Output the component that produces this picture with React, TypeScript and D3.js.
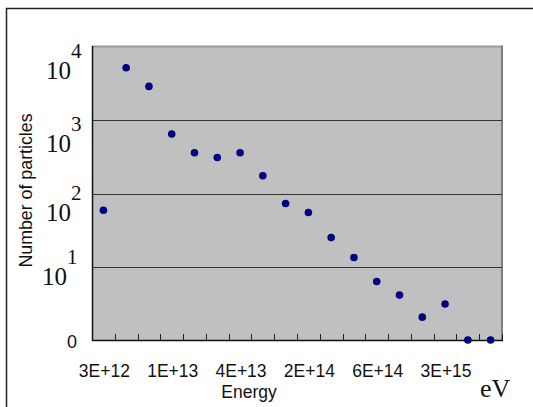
import React from "react";
import * as d3 from "d3";

// ---- data ----
const categories: number[] = d3.range(18);
const tickLabels: string[] = ["3E+12", "", "", "1E+13", "", "", "4E+13", "", "", "2E+14", "", "", "6E+14", "", "", "3E+15", "", ""];
const counts: number[] = [59, 5200, 2900, 650, 360, 310, 360, 175, 73, 55, 25, 13.4, 6.3, 4.1, 2.05, 3.1, 1, 1];
const yTickValues: number[] = [1, 10, 100, 1000, 10000];
const yTickExponents: string[] = ["", "1", "2", "3", "4"];

// ---- layout ----
const W = 533, H = 407;
const plot = { left: 92, right: 502, top: 47, bottom: 340 };
// manual nudges of the y labels (baseline offset of "10" below the gridline)
const yLabelNudge = [8, 18, 27, 32, 32];

export default function App() {
  const x = d3.scaleBand<number>().domain(categories).range([plot.left, plot.right]);
  const y = d3.scaleLog().domain([1, 10000]).range([plot.bottom, plot.top]);
  const serif = "'Liberation Serif', 'Times New Roman', serif";
  const sans = "'Liberation Sans', Arial, sans-serif";

  return (
    <svg width={W} height={H} style={{ position: "absolute", left: 0, top: 0, background: "#fff" }}>
      {/* outer chart border */}
      <rect x={6.5} y={8.5} width={W + 20} height={H + 20} fill="#fff" stroke="#222" strokeWidth={1.5} />
      {/* plot area */}
      <rect x={plot.left} y={plot.top} width={plot.right - plot.left} height={plot.bottom - plot.top} fill="#c0c0c0" />
      {/* top & right borders */}
      <line x1={plot.left} x2={plot.right} y1={plot.top - 0.5} y2={plot.top - 0.5} stroke="#999" strokeWidth={2} />
      <line x1={plot.right} x2={plot.right} y1={plot.top - 1.5} y2={plot.bottom} stroke="#808080" strokeWidth={2} />
      {/* gridlines */}
      {yTickValues.slice(1, 4).map((v) => (
        <line key={v} x1={plot.left} x2={plot.right} y1={Math.round(y(v)) + 0.5} y2={Math.round(y(v)) + 0.5} stroke="#333" strokeWidth={1} />
      ))}
      {/* x ticks */}
      {categories.map((c) => {
        const xx = Math.round((x(c) as number) + x.bandwidth()) + 0.5;
        return <line key={c} x1={xx} x2={xx} y1={plot.bottom} y2={plot.bottom - 6} stroke="#222" strokeWidth={1} />;
      })}
      {/* axes */}
      <line x1={plot.left + 0.5} x2={plot.left + 0.5} y1={plot.top - 1} y2={plot.bottom + 1} stroke="#111" strokeWidth={1.5} />
      <line x1={plot.left} x2={plot.right + 1} y1={plot.bottom + 0.5} y2={plot.bottom + 0.5} stroke="#111" strokeWidth={1.5} />
      {/* points */}
      {counts.map((v, i) => (
        <circle key={i} cx={(x(categories[i]) as number) + x.bandwidth() / 2} cy={y(v)} r={3.8} fill="#000080" />
      ))}
      {/* x labels */}
      {categories.map((c, i) =>
        tickLabels[i] ? (
          <text key={c} x={(x(c) as number) + x.bandwidth() / 2 + 1} y={377} textAnchor="middle" fontFamily={sans} fontSize={17.5} fill="#111">
            {tickLabels[i]}
          </text>
        ) : null
      )}
      {/* y labels */}
      {yTickValues.map((v, i) =>
        i === 0 ? (
          <text key={v} x={77} y={y(v) + yLabelNudge[i]} textAnchor="end" fontFamily={sans} fontSize={18} fill="#111">0</text>
        ) : (
          <g key={v}>
            <text x={i === 1 ? 67 : 71} y={y(v) + yLabelNudge[i]} textAnchor="end" fontFamily={serif} fontSize={25} fill="#111">10</text>
            <text x={i === 1 ? 67 : 71} y={y(v) + yLabelNudge[i] - 21} textAnchor="start" fontFamily={serif} fontSize={21} fill="#111">
              {yTickExponents[i]}
            </text>
          </g>
        )
      )}
      {/* axis titles */}
      <text x={249} y={398} textAnchor="middle" fontFamily={sans} fontSize={17.5} fill="#111">Energy</text>
      <text transform="translate(32,190.5) rotate(-90)" textAnchor="middle" fontFamily={sans} fontSize={17.8} fill="#111">Number of particles</text>
      <text x={480} y={397} fontFamily={serif} fontSize={26} fill="#111">eV</text>
    </svg>
  );
}
